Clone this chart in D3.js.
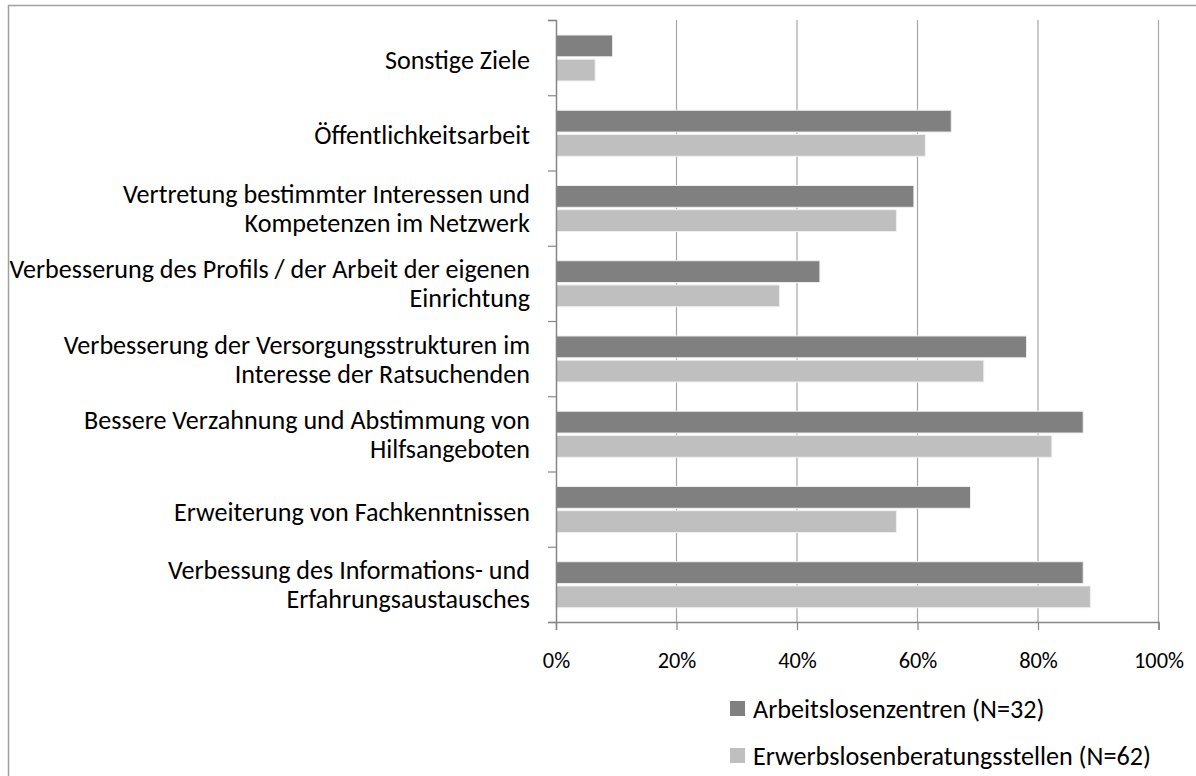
<!DOCTYPE html>
<html>
<head>
<meta charset="utf-8">
<script src="https://cdn.jsdelivr.net/npm/d3@7"></script>
<style>
  body { margin: 0; background: #fff; }
  text { font-family: Carlito, Calibri, "Noto Sans", sans-serif; fill: #000; }
</style>
</head>
<body>
<svg id="chart" width="1196" height="776"></svg>
<script>
// Kategorien von oben nach unten
var categories = [
    ["Sonstige Ziele"],
    ["Öffentlichkeitsarbeit"],
    ["Vertretung bestimmter Interessen und", "Kompetenzen im Netzwerk"],
    ["Verbesserung des Profils / der Arbeit der eigenen", "Einrichtung"],
    ["Verbesserung der Versorgungsstrukturen im", "Interesse der Ratsuchenden"],
    ["Bessere Verzahnung und Abstimmung von", "Hilfsangeboten"],
    ["Erweiterung von Fachkenntnissen"],
    ["Verbessung des Informations- und", "Erfahrungsaustausches"]
];
var series = ["Arbeitslosenzentren (N=32)", "Erwerbslosenberatungsstellen (N=62)"];
var arbeitslosenzentren = [9.4, 65.6, 59.4, 43.8, 78.1, 87.5, 68.8, 87.5];
var erwerbslosen = [6.5, 61.3, 56.5, 37.1, 71.0, 82.3, 56.5, 88.7];
var xTicks = [0, 20, 40, 60, 80, 100];
var colors = ["#808080", "#bfbfbf"];

var svg = d3.select("#chart");

// Rahmen
svg.append("rect")
    .attr("x", 8.5).attr("y", 5.5)
    .attr("width", 1300).attr("height", 900)
    .attr("fill", "none")
    .attr("stroke", "#a0a0a0")
    .attr("stroke-width", 1.5);

var pLeft = 556, pRight = 1158.5, pTop = 20, pBottom = 622;

var x = d3.scaleLinear().domain([0, 100]).range([pLeft, pRight]);
var y0 = d3.scaleBand().domain(d3.range(categories.length)).range([pTop, pBottom]);
var y1 = d3.scaleBand().domain([0, 1]).range([15, 61]).paddingInner(0.1);

// Schriftgröße an Zielbreite anpassen
function fitSize(str, target) {
    var t = svg.append("text").style("font-size", "20px").text(str);
    var w = t.node().getComputedTextLength();
    t.remove();
    return 20 * target / w;
}
var labelSize = fitSize("Verbesserung des Profils / der Arbeit der eigenen", 521);
var legendSize = fitSize("Erwerbslosenberatungsstellen (N=62)", 398);
var tickSize = fitSize("100%", 50);

// Gitterlinien
svg.selectAll(".grid")
    .data(xTicks.slice(1))
    .enter()
    .append("line")
    .attr("class", "grid")
    .attr("x1", function (d) {return x(d);})
    .attr("x2", function (d) {return x(d);})
    .attr("y1", pTop)
    .attr("y2", pBottom)
    .style("stroke", "#a6a6a6")
    .style("stroke-width", 1.2);

// Balken
var group = svg.selectAll(".cat")
    .data(categories)
    .enter()
    .append("g")
    .attr("class", "cat")
    .attr("transform", function (d, i) {return "translate(0," + y0(i) + ")";});

group.selectAll("rect")
    .data(function (d, i) {return [arbeitslosenzentren[i], erwerbslosen[i]];})
    .enter()
    .append("rect")
    .attr("x", x(0))
    .attr("y", function (d, j) {return y1(j);})
    .attr("width", function (d) {return x(d) - x(0);})
    .attr("height", y1.bandwidth())
    .style("fill", function (d, j) {return colors[j];})
    .style("stroke", "#f0f0f0")
    .style("stroke-width", 1);

// Kategorie-Beschriftungen
group.each(function (d) {
    var g = d3.select(this);
    var lh = 29;
    var c = y0.bandwidth() / 2 + labelSize * 0.33 + (d.length === 1 ? 3 : 1);
    var start = c - (d.length - 1) * lh / 2;
    d.forEach(function (line, k) {
        g.append("text")
            .attr("x", 530)
            .attr("y", start + k * lh)
            .attr("text-anchor", "end")
            .style("font-size", labelSize + "px")
            .text(line);
    });
});

// y-Achse
var yAxis = svg.append("g")
    .attr("transform", "translate(" + pLeft + ",0)")
    .call(d3.axisLeft(d3.scaleLinear().domain([0, categories.length]).range([pTop, pBottom]))
        .ticks(categories.length).tickSize(8).tickFormat(""));
yAxis.select(".domain").attr("stroke", "#868686").attr("stroke-width", 1.5);
yAxis.selectAll(".tick line").attr("stroke", "#868686").attr("stroke-width", 1.2);

// x-Achse
var xAxis = svg.append("g")
    .attr("transform", "translate(0," + pBottom + ")")
    .call(d3.axisBottom(x).tickValues(xTicks).tickSize(8)
        .tickFormat(function (d) {return d + "%";}));
xAxis.select(".domain").attr("stroke", "#868686").attr("stroke-width", 1.5);
xAxis.selectAll(".tick line").attr("stroke", "#868686").attr("stroke-width", 1.2);
xAxis.selectAll(".tick text")
    .attr("y", 46)
    .attr("dy", null)
    .style("font-size", tickSize + "px")
    .style("font-family", "Carlito, Calibri, 'Noto Sans', sans-serif")
    .attr("fill", "#000");

// Legende
var legend = svg.selectAll(".legend")
    .data(series)
    .enter()
    .append("g")
    .attr("class", "legend")
    .attr("transform", function (d, i) {return "translate(730," + (701 + i * 47) + ")";});

legend.append("rect")
    .attr("width", 15)
    .attr("height", 15)
    .style("fill", function (d, i) {return colors[i];});

legend.append("text")
    .attr("x", 23)
    .attr("y", 17)
    .style("font-size", legendSize + "px")
    .text(function (d) {return d;});
</script>
</body>
</html>
